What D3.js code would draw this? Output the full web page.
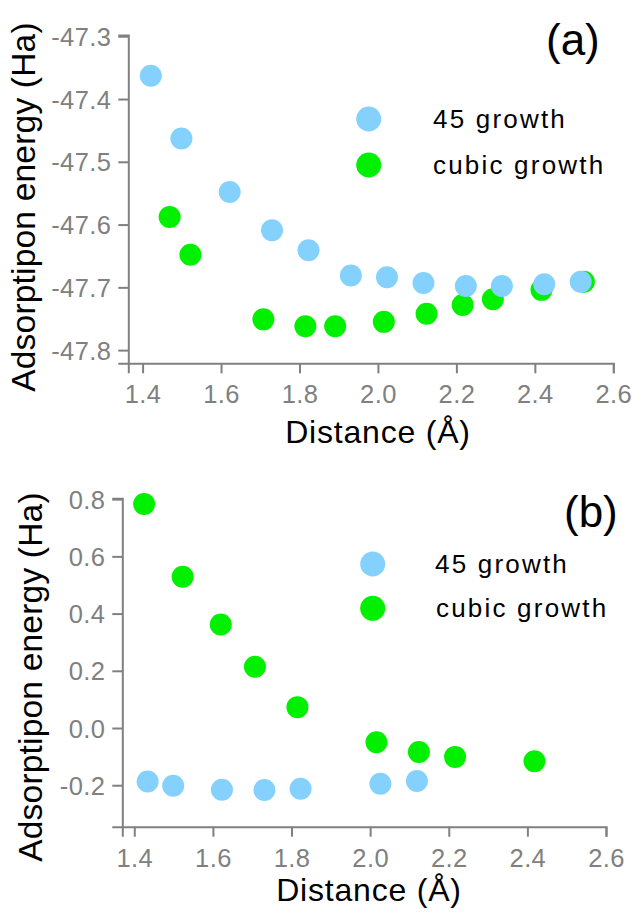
<!DOCTYPE html>
<html>
<head>
<meta charset="utf-8">
<script src="https://cdn.jsdelivr.net/npm/d3@7"></script>
<style>
  body { margin: 0; background: #fff; }
  text { font-family: "Liberation Sans", Arial, sans-serif; }
</style>
</head>
<body>
<div id="my_dataviz"></div>
<script>
// Data
var legendNames = ["45 growth", "cubic growth"]
var colors = ["#84d1fd", "#00f000"]

// panel (a)
var distA45 = [1.421, 1.499, 1.622, 1.730, 1.823, 1.931, 2.023, 2.116, 2.224, 2.316, 2.424, 2.517]
var energyA45 = [-47.363, -47.463, -47.548, -47.609, -47.641, -47.681, -47.684, -47.693, -47.698, -47.698, -47.695, -47.691]
var distACubic = [1.469, 1.522, 1.708, 1.815, 1.891, 2.015, 2.124, 2.216, 2.293, 2.417, 2.525]
var energyACubic = [-47.588, -47.648, -47.751, -47.762, -47.762, -47.755, -47.742, -47.728, -47.719, -47.704, -47.691]

// panel (b)
var distB45 = [1.434, 1.499, 1.623, 1.731, 1.823, 2.026, 2.119]
var energyB45 = [-0.187, -0.202, -0.216, -0.217, -0.212, -0.195, -0.185]
var distBCubic = [1.425, 1.523, 1.620, 1.707, 1.815, 2.016, 2.124, 2.216, 2.418]
var energyBCubic = [0.783, 0.529, 0.362, 0.214, 0.073, -0.050, -0.084, -0.101, -0.116]

// tick labels
var xTicks = [1.4, 1.6, 1.8, 2.0, 2.2, 2.4, 2.6]
var yTicksA = [-47.3, -47.4, -47.5, -47.6, -47.7, -47.8]
var yTicksB = [-0.2, 0.0, 0.2, 0.4, 0.6, 0.8]

var svg = d3.select("#my_dataviz")
  .append("svg")
  .attr("width", 632)
  .attr("height", 912)

var axisGray = "#808080"

function drawPanel(p) {
  var x = d3.scaleLinear().domain(p.xDomain).range([p.left, p.right])
  var y = d3.scaleLinear().domain(p.yDomain).range([p.bottom, p.top])
  var fmt = function(v) { return d3.format(".1f")(v).replace("\u2212", "-") }

  // Оси
  var gx = svg.append("g")
    .attr("transform", "translate(0," + p.bottom + ")")
    .call(d3.axisBottom(x).tickValues(xTicks).tickFormat(fmt).tickSizeOuter(0).tickSize(10))
  var gy = svg.append("g")
    .attr("transform", "translate(" + p.left + ",0)")
    .call(d3.axisLeft(y).tickValues(p.yTicks).tickFormat(fmt).tickSizeOuter(0).tickSize(10).tickPadding(7))

  ;[gx, gy].forEach(function(g) {
    g.select(".domain").attr("stroke", axisGray).attr("stroke-width", 2)
    g.selectAll(".tick line").attr("stroke", axisGray).attr("stroke-width", 2)
    g.selectAll(".tick text")
      .attr("fill", axisGray)
      .style("font-size", "25.5px")
      .style("letter-spacing", "0.4px")
  })
  gx.selectAll(".tick text").attr("dy", null).attr("y", 40)
  gy.selectAll(".tick text").attr("dy", "0.36em")

  // Точки: сначала зеленые, потом голубые сверху
  var series = [
    { xs: p.cubicX, ys: p.cubicY, color: colors[1] },
    { xs: p.b45X, ys: p.b45Y, color: colors[0] }
  ]
  series.forEach(function(s) {
    svg.append("g")
      .selectAll("circle")
      .data(s.xs.map(function(d, i) { return [d, s.ys[i]] }))
      .enter()
      .append("circle")
      .attr("cx", function(d) { return x(d[0]) })
      .attr("cy", function(d) { return y(d[1]) })
      .attr("r", 11)
      .style("fill", s.color)
  })

  // Легенда
  var leg = svg.append("g")
  legendNames.forEach(function(name, i) {
    leg.append("circle")
      .attr("cx", p.legX)
      .attr("cy", p.legY[i])
      .attr("r", 12.5)
      .style("fill", colors[i])
    leg.append("text")
      .attr("x", p.legTextX[i])
      .attr("y", p.legY[i] + 9)
      .style("font-size", "26px")
      .style("letter-spacing", "2.2px")
      .attr("fill", "#000")
      .text(name)
  })

  // Подписи осей
  svg.append("text")
    .attr("x", p.xLabelX)
    .attr("y", p.xLabelY)
    .attr("text-anchor", "middle")
    .style("font-size", "32px")
    .style("letter-spacing", "0.8px")
    .text("Distance (Å)")
  svg.append("text")
    .attr("transform", "translate(" + p.yLabelX + "," + p.yLabelY + ") rotate(-90)")
    .attr("text-anchor", "middle")
    .style("font-size", "33.5px")
    .style("letter-spacing", "0.2px")
    .text("Adsorptipon energy (Ha)")

  // (a) / (b)
  svg.append("text")
    .attr("x", p.tagX)
    .attr("y", p.tagY)
    .style("font-size", "44px")
    .text(p.tag)
}

drawPanel({
  xDomain: [1.3636, 2.6], yDomain: [-47.821, -47.298],
  left: 128.3, right: 613.3, top: 35, bottom: 363.3,
  yTicks: yTicksA,
  b45X: distA45, b45Y: energyA45, cubicX: distACubic, cubicY: energyACubic,
  legX: 368.7, legY: [119, 165], legTextX: [433, 433],
  xLabelX: 378, xLabelY: 443.3,
  yLabelX: 35, yLabelY: 207,
  tag: "(a)", tagX: 546, tagY: 55
})

drawPanel({
  xDomain: [1.3695, 2.6], yDomain: [-0.345, 0.803],
  left: 122.3, right: 606, top: 498.3, bottom: 826.7,
  yTicks: yTicksB,
  b45X: distB45, b45Y: energyB45, cubicX: distBCubic, cubicY: energyBCubic,
  legX: 372.7, legY: [564, 608.3], legTextX: [435, 436],
  xLabelX: 369, xLabelY: 901,
  yLabelX: 41.5, yLabelY: 677,
  tag: "(b)", tagX: 564, tagY: 527
})
</script>
</body>
</html>
